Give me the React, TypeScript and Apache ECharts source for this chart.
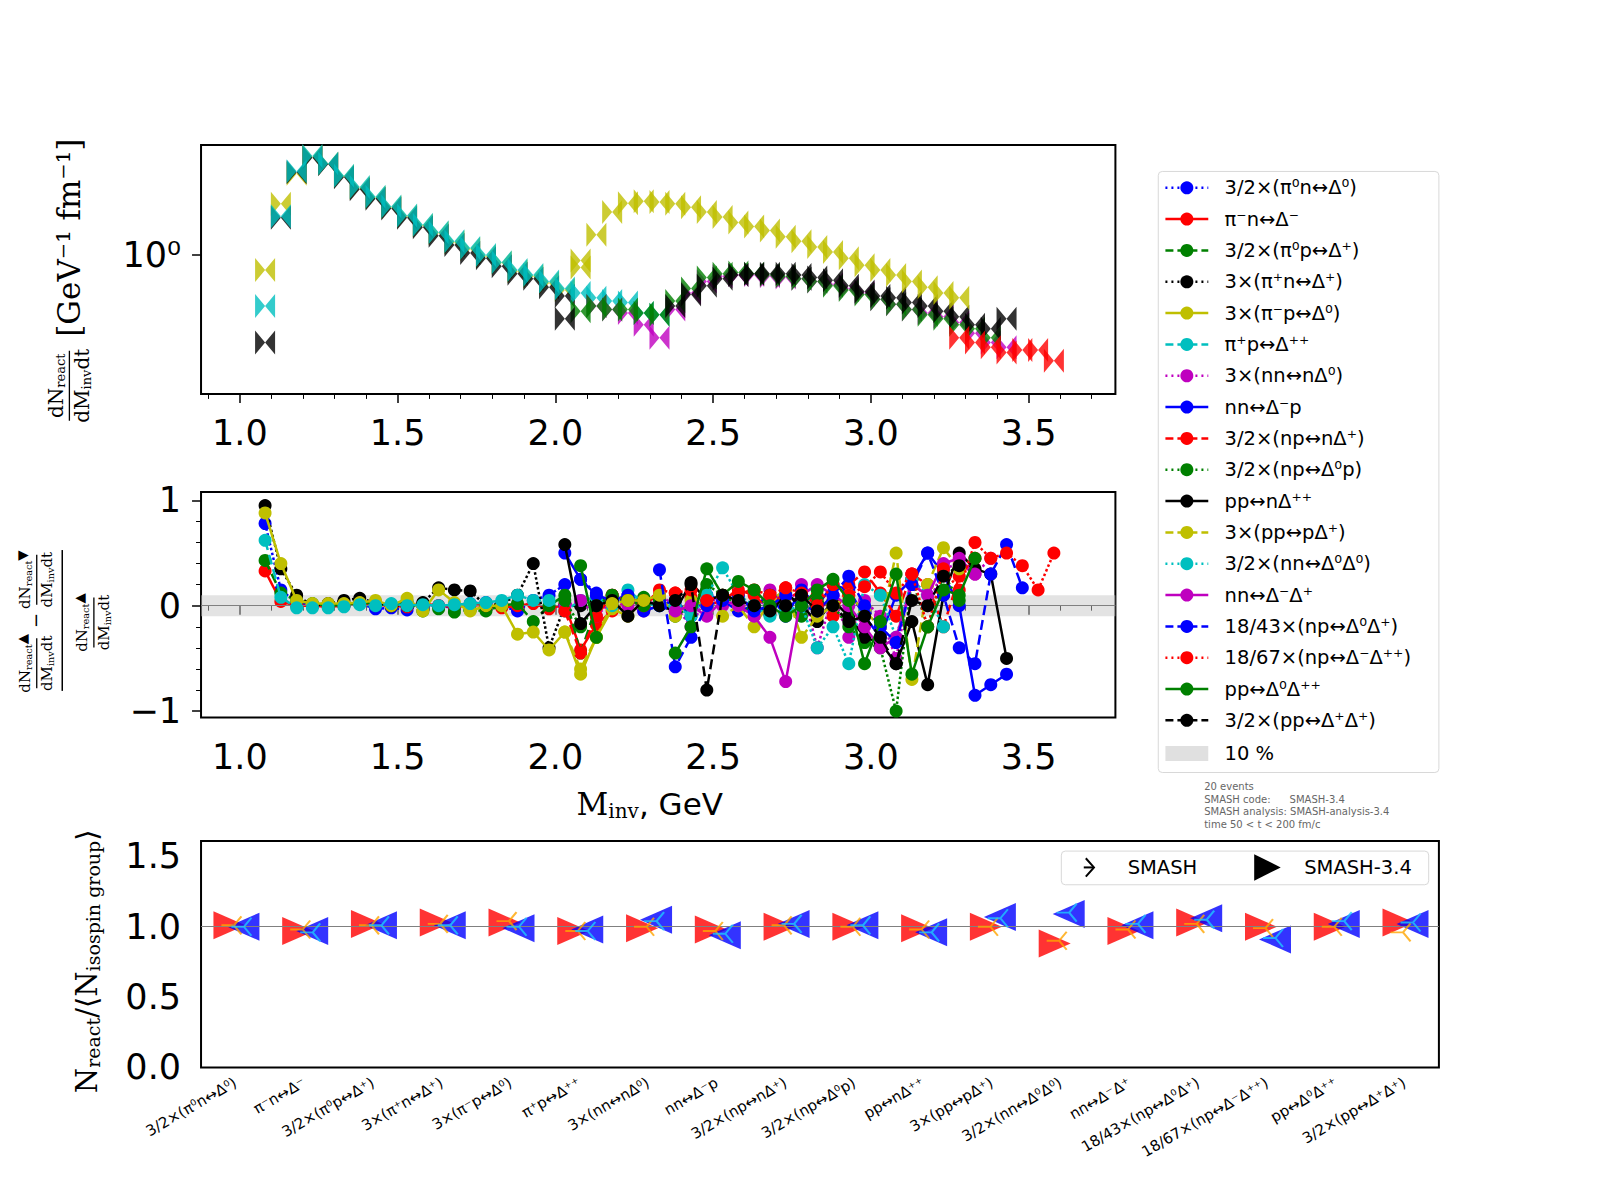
import { useEffect, useRef } from "react";
import * as echarts from "echarts";

// mass bins (GeV), step 0.05
const massBins = [
  1.08, 1.13, 1.18, 1.23, 1.28, 1.33, 1.38, 1.43, 1.48, 1.53, 1.58, 1.63, 1.68, 1.73, 1.78, 1.83, 1.88,
  1.93, 1.98, 2.03, 2.08, 2.13, 2.18, 2.23, 2.28, 2.33, 2.38, 2.43, 2.48, 2.53, 2.58, 2.63, 2.68, 2.73,
  2.78, 2.83, 2.88, 2.93, 2.98, 3.03, 3.08, 3.13, 3.18, 3.23, 3.28, 3.33, 3.38, 3.43, 3.48, 3.53, 3.58,
];

const channelNames = [
  "3/2×(π⁰n↔Δ⁰)", "π⁻n↔Δ⁻", "3/2×(π⁰p↔Δ⁺)", "3×(π⁺n↔Δ⁺)", "3×(π⁻p↔Δ⁰)", "π⁺p↔Δ⁺⁺",
  "3×(nn↔nΔ⁰)", "nn↔Δ⁻p", "3/2×(np↔nΔ⁺)", "3/2×(np↔Δ⁰p)", "pp↔nΔ⁺⁺", "3×(pp↔pΔ⁺)",
  "3/2×(nn↔Δ⁰Δ⁰)", "nn↔Δ⁻Δ⁺", "18/43×(np↔Δ⁰Δ⁺)", "18/67×(np↔Δ⁻Δ⁺⁺)", "pp↔Δ⁰Δ⁺⁺", "3/2×(pp↔Δ⁺Δ⁺)",
];
const channelColors = [
  "#0000ff", "#ff0000", "#008000", "#000000", "#bfbf00", "#00bfbf",
  "#bf00bf", "#0000ff", "#ff0000", "#008000", "#000000", "#bfbf00",
  "#00bfbf", "#bf00bf", "#0000ff", "#ff0000", "#008000", "#000000",
];
const channelDash = [
  "dotted", "solid", "dashed", "dotted", "solid", "dashed",
  "dotted", "solid", "dashed", "dotted", "solid", "dashed",
  "dotted", "solid", "dashed", "dotted", "solid", "dashed",
];

// top panel: dN/dM (GeV^-1 fm^-1)
const topPiPlusP = [0.62, 1.44, 2.2, 2.54, 2.37, 2.11, 1.9, 1.73, 1.58, 1.45, 1.33, 1.24, 1.14, 1.07, 1.0, 0.935, 0.87, 0.83, 0.78, 0.73, 0.7, 0.67, 0.65, 0.64, 0.58, 0.57];
const topPiMinusP = [0.87, 1.62, 2.15, 2.52, 2.36, 2.1, 1.88, 1.72, 1.57, 1.44, 1.32, 1.23, 1.13, 1.06, 0.99, 0.93, 0.86, 0.82, 0.77, 0.72, 0.95];
const topPiPlusN = [0.44, 1.42, 2.18, 2.5, 2.35, 2.08, 1.86, 1.7, 1.55, 1.42, 1.3, 1.2, 1.1, 1.02, 0.97, 0.9, 0.84, 0.8, 0.74, 0.68];
const topPPtoPDelta = [null, null, null, null, null, null, null, null, null, null, null, null, null, null, null, null, null, null, null, null, 0.89, 1.21, 1.5, 1.63, 1.66, 1.65, 1.62, 1.57, 1.5, 1.43, 1.36, 1.31, 1.26, 1.19, 1.14, 1.08, 1.03, 0.97, 0.91, 0.87, 0.83, 0.78, 0.74, 0.7, 0.67];
const topPPtoNDelta = [null, null, null, null, null, null, null, null, null, null, null, null, null, null, null, null, null, null, null, 0.55, null, null, null, null, null, null, 0.62, 0.69, 0.75, 0.8, 0.83, 0.84, 0.84, 0.84, 0.83, 0.81, 0.79, 0.75, 0.71, 0.68, 0.67, 0.64, 0.62, 0.59, 0.56, 0.52, 0.5, 0.55];
const topPPtoDD = [null, null, null, null, null, null, null, null, null, null, null, null, null, null, null, null, null, null, null, null, 0.59, 0.62, 0.6, 0.6, 0.58, 0.57, 0.65, 0.73, 0.81, 0.84, 0.85, 0.84, 0.83, 0.82, 0.8, 0.78, 0.75, 0.72, 0.69, 0.66, 0.63, 0.6, 0.57, 0.55, 0.52, 0.5, 0.46];
const topNNtoDeltaP = [null, null, null, null, null, null, null, null, null, null, null, null, null, null, null, null, null, null, null, null, null, 0.62, 0.6, 0.58, 0.52, 0.46, 0.6, 0.7, 0.78, 0.82, 0.83, 0.83, 0.82, 0.81, 0.8, 0.78, 0.76, 0.73, 0.7, 0.66, 0.63, 0.6, 0.58, 0.56, 0.53, 0.48, 0.44, 0.42];
const topNPtoDD = [null, null, null, null, null, null, null, null, null, null, null, null, null, null, null, null, null, null, null, null, null, null, null, null, null, null, null, null, null, null, null, null, null, null, null, null, null, null, null, null, null, null, null, null, 0.46, 0.44, 0.42, 0.4, 0.41, 0.41, 0.37];

// middle panel: relative difference per channel (same bin order, nulls where no data)
const ratio: (number | null)[][] = [
  [0.78, 0.15, 0.03, 0.0, 0.01, 0.0, 0.02, -0.03, -0.02, -0.04, 0.01, 0.0, -0.02, 0.02, 0.03, 0.0, -0.05, 0.05, 0.1, 0.2, 0.25, 0.12, 0.0, 0.1, 0.05],
  [0.33, 0.04, 0.0, 0.0, -0.01, 0.0, 0.02, 0.01, 0.0, -0.01, 0.02, 0.0, -0.01, 0.01, 0.0, -0.02, 0.0, 0.02, -0.03, 0.01, -0.42, -0.18, -0.05, 0.05, 0.02, 0.1],
  [0.43, 0.12, 0.05, 0.02, 0.0, 0.01, 0.03, 0.02, 0.0, 0.04, -0.05, -0.03, -0.06, -0.04, -0.05, 0.0, 0.02, -0.15, 0.0, 0.1, -0.45, 0.0, 0.05, 0.03, 0.08],
  [0.95, 0.35, 0.1, 0.0, 0.02, 0.05, 0.07, 0.03, 0.0, 0.0, 0.03, 0.17, 0.15, 0.14, 0.0, 0.02, 0.1, 0.4, -0.4, 0.0, 0.0, 0.05, 0.1, 0.05],
  [0.88, 0.4, 0.05, 0.02, 0.02, 0.02, 0.03, 0.05, 0.0, 0.07, -0.05, 0.15, 0.03, -0.05, 0.0, 0.0, -0.27, -0.25, -0.42, -0.25, -0.65, -0.3, -0.03, -0.1, 0.05],
  [0.62, 0.08, -0.02, -0.02, -0.02, -0.01, 0.01, 0.0, 0.02, 0.0, 0.01, 0.0, 0.01, 0.02, 0.03, 0.05, 0.1, 0.05, 0.05, -0.05, 0.05, 0.08, 0.0, 0.15, 0.02, 0.0, 0.0],
  [null, null, null, null, null, null, null, null, null, null, null, null, null, null, null, null, null, null, null, 0.0, 0.05, -0.1, 0.05, 0.0, -0.05, 0.1, 0.0, -0.2, 0.1, 0.0, 0.05, -0.1, 0.15, 0.0, 0.2, -0.4, 0.1, -0.3, 0.05, -0.1, -0.5, 0.3, 0.0, 0.35, 0.4, 0.3, 0.45],
  [null, null, null, null, null, null, null, null, null, null, null, null, null, null, null, null, null, null, null, 0.5, 0.25, 0.1, 0.05, 0.1, -0.05, 0.0, 0.05, -0.1, 0.1, 0.05, -0.05, 0.0, 0.1, -0.1, 0.15, 0.0, 0.2, 0.15, -0.1, -0.3, 0.1, 0.25, 0.5, 0.3, 0.0, -0.85, -0.75, -0.65],
  [null, null, null, null, null, null, null, null, null, null, null, null, null, null, null, null, null, null, null, -0.05, -0.45, -0.1, 0.1, 0.05, 0.0, 0.15, 0.12, 0.08, 0.0, 0.05, 0.15, 0.1, -0.05, 0.17, 0.05, 0.1, -0.1, 0.2, 0.32, 0.12, -0.1, 0.3, 0.2, -0.2, 0.28, 0.45],
  [null, null, null, null, null, null, null, null, null, null, null, null, null, null, null, null, null, null, null, 0.05, -0.2, 0.0, 0.1, 0.05, 0.0, 0.05, -0.1, 0.0, 0.2, 0.1, 0.0, -0.05, 0.1, 0.0, -0.1, 0.05, 0.0, -0.2, -0.35, -0.4, -1.0, 0.25, -0.2, 0.3, 0.05],
  [null, null, null, null, null, null, null, null, null, null, null, null, null, null, null, null, null, null, null, 0.58, -0.17, 0.0, 0.05, -0.1, 0.05, 0.0, -0.05, 0.22, 0.05, 0.1, 0.05, 0.0, -0.08, 0.12, 0.0, -0.15, 0.05, -0.1, -0.3, -0.35, -0.55, -0.15, -0.75, 0.1, 0.5, 0.35, 0.3, -0.5],
  [null, null, null, null, null, null, null, null, null, null, null, null, null, null, null, null, null, null, null, -0.25, -0.6, -0.3, 0.02, 0.05, 0.05, 0.1, -0.1, 0.05, 0.0, -0.1, 0.0, -0.2, 0.05, 0.15, -0.3, -0.1, 0.0, 0.1, -0.05, -0.2, 0.5, -0.7, 0.2, 0.55, 0.35],
  [null, null, null, null, null, null, null, null, null, null, null, null, null, null, null, null, null, null, null, null, null, null, null, null, null, null, 0.0, -0.1, 0.1, 0.36, 0.1, 0.0, -0.1, -0.05, 0.0, -0.4, -0.2, -0.55, 0.2, 0.1, -0.3, 0.25, 0.1, -0.2],
  [null, null, null, null, null, null, null, null, null, null, null, null, null, null, null, null, null, null, null, null, null, null, null, null, null, null, -0.05, 0.0, -0.1, 0.05, 0.0, -0.1, -0.3, -0.72, 0.1, 0.2, 0.1, 0.0, -0.2, -0.4, -0.3, 0.2, 0.1, 0.4, 0.45, 0.3],
  [null, null, null, null, null, null, null, null, null, null, null, null, null, null, null, null, null, null, null, null, null, null, null, null, null, 0.34, -0.58, -0.3, 0.0, 0.05, 0.1, -0.05, 0.0, 0.1, 0.0, -0.05, 0.1, 0.28, 0.0, -0.2, -0.35, 0.2, 0.5, 0.1, -0.4, -0.55, 0.3, 0.58, 0.17],
  [null, null, null, null, null, null, null, null, null, null, null, null, null, null, null, null, null, null, null, null, null, null, null, null, null, null, 0.12, 0.15, 0.05, 0.1, 0.12, 0.15, 0.1, 0.17, 0.12, 0.0, 0.2, 0.1, 0.18, 0.32, 0.12, 0.3, -0.2, 0.35, 0.15, 0.6, 0.45, 0.5, 0.38, 0.15, 0.5],
  [null, null, null, null, null, null, null, null, null, null, null, null, null, null, null, null, null, null, null, null, 0.38, -0.3, null, null, null, null, -0.45, -0.2, 0.35, 0.1, 0.23, 0.15, 0.0, -0.1, 0.0, 0.15, 0.25, 0.05, -0.55, -0.15, 0.3, -0.65, -0.2, 0.15, 0.1, 0.45],
  [null, null, null, null, null, null, null, null, null, null, null, null, null, null, null, null, null, null, null, null, null, null, null, null, null, null, 0.05, 0.2, -0.8, 0.1, 0.05, 0.0, -0.05, 0.0, 0.1, -0.05, 0.0, -0.15, -0.1, -0.3, -0.55, 0.05, 0.0, 0.28, 0.38],
];

// bottom panel
const bottomCategories = channelNames;
const smash34First = [1.01, 0.97, 1.02, 1.03, 1.03, 0.97, 0.99, 0.98, 1.0, 1.0, 0.99, 1.0, 0.88, 0.97, 1.03, 1.0, 1.0, 1.03];
const smash34Second = [1.0, 0.97, 1.01, 1.01, 0.99, 0.98, 1.05, 0.94, 1.02, 1.01, 0.96, 1.07, 1.09, 1.01, 1.06, 0.91, 1.02, 1.02];
const smashFirst = [1.01, 0.98, 1.01, 1.02, 1.04, 0.97, 1.0, 0.97, 1.01, 1.0, 0.98, 1.0, 0.9, 0.98, 1.02, 0.99, 1.0, 0.96];
const smashSecond = [1.0, 0.96, 1.01, 1.01, 1.0, 0.97, 1.04, 0.95, 1.02, 1.01, 0.96, 1.06, 1.1, 1.02, 1.05, 0.92, 1.04, 1.03];

const topXMajor = [1.0, 1.5, 2.0, 2.5, 3.0, 3.5];
const topXMinor = [0.9, 1.1, 1.2, 1.3, 1.4, 1.6, 1.7, 1.8, 1.9, 2.1, 2.2, 2.3, 2.4, 2.6, 2.7, 2.8, 2.9, 3.1, 3.2, 3.3, 3.4, 3.6, 3.7];
const midYMajor = [-1, 0, 1];
const midYMinor = [-0.8, -0.6, -0.4, -0.2, 0.2, 0.4, 0.6, 0.8];
const bottomYTicks = [0, 0.5, 1.0, 1.5];

const S = 1.0205; // reference was measured on a slightly shrunk view
const s = (v: number) => v * S;
const BOWTIE = "path://M0,0L10,5L0,10ZM20,0L10,5L20,10Z";
const TRI = "path://M0,5L10,5M10,5L16,0M10,5L16,10";
const sans = "DejaVu Sans";
const serif = "DejaVu Serif";

const xAxesFor = (gridIndex: number) => [
  {
    type: "value", gridIndex, min: 0.877, max: 3.775, position: "bottom",
    axisLine: { show: false }, splitLine: { show: false },
    axisTick: { show: true, inside: false, length: 9, lineStyle: { color: "#000", width: 1.5 }, customValues: topXMajor },
    axisLabel: { customValues: topXMajor, margin: 22, fontSize: 35, fontFamily: sans, color: "#000", formatter: (v: number) => v.toFixed(1) },
  },
  {
    type: "value", gridIndex, min: 0.877, max: 3.775, position: "bottom",
    axisLine: { show: false }, splitLine: { show: false },
    axisTick: { show: true, length: 5, lineStyle: { color: "#000", width: 1 }, customValues: topXMinor },
    axisLabel: { show: false },
  },
];

// a rotated (reading upward) fraction centred on screen point (x, y)
const rich = (fs: number) => ({
  m: { fontSize: fs, fontFamily: serif, fill: "#000" },
  s: { fontSize: fs * 0.65, fontFamily: serif, fill: "#000", padding: [fs * 0.45, 0, 0, 0] },
  t: { fontSize: fs * 0.9, fontFamily: sans, fill: "#000", padding: [0, 0, fs * 0.4, 0] },
});
const frac = (x: number, y: number, w: number, num: string, den: string, fs: number) => ({
  type: "group", x, y, rotation: Math.PI / 2,
  children: [
    { type: "text", x: 0, y: -2, style: { text: num, align: "center", verticalAlign: "bottom", rich: rich(fs) } },
    { type: "line", shape: { x1: -w / 2, y1: 0, x2: w / 2, y2: 0 }, style: { stroke: "#000", lineWidth: 1.3 } },
    { type: "text", x: 0, y: 2, style: { text: den, align: "center", verticalAlign: "top", rich: rich(fs) } },
  ],
});
const DN = "{m|dN}{s|react}";
const DM = "{m|dM}{s|inv}{m|dt}";

const App = () => {
  const ref = useRef<HTMLDivElement>(null);

  useEffect(() => {
    document.body.style.margin = "0";
    if (!ref.current) return;
    const chart = echarts.init(ref.current, null, { renderer: "svg" });

    const pair = (vals: (number | null)[]) => vals.map((v, i) => [massBins[i], v]);

    const topSeries = [
      { data: topPiMinusP, color: "#bfbf00" },
      { data: topPiPlusN, color: "#000000" },
      { data: topPiPlusP, color: "#00bfbf" },
      { data: topNNtoDeltaP, color: "#bf00bf" },
      { data: topPPtoDD, color: "#008000" },
      { data: topPPtoNDelta, color: "#000000" },
      { data: topPPtoPDelta, color: "#bfbf00" },
      { data: topNPtoDD, color: "#ff0000" },
    ].map((d) => ({
      type: "scatter", xAxisIndex: 0, yAxisIndex: 0, data: pair(d.data).filter((p) => p[1] != null),
      symbol: BOWTIE, symbolSize: [20, 24], itemStyle: { color: d.color }, z: 3,
    }));

    const midSeries = ratio.map((vals, k) => ({
      type: "line", xAxisIndex: 2, yAxisIndex: 1, data: pair(vals), connectNulls: false,
      symbol: "circle", symbolSize: 13, showSymbol: true,
      lineStyle: { color: channelColors[k], width: 2.5, type: channelDash[k] },
      itemStyle: { color: channelColors[k] }, z: 3 + k,
    }));

    const legendEls: any[] = [];
    channelNames.forEach((name, k) => {
      const y = s(184 + k * 30.7);
      legendEls.push({ type: "line", shape: { x1: s(1142), y1: y, x2: s(1184), y2: y }, style: { stroke: channelColors[k], lineWidth: 2.5, lineDash: channelDash[k] === "dotted" ? [2, 4] : channelDash[k] === "dashed" ? [8, 4] : null } });
      legendEls.push({ type: "circle", shape: { cx: s(1163), cy: y, r: 6.5 }, style: { fill: channelColors[k] } });
      legendEls.push({ type: "text", x: s(1200), y, style: { text: name, fontSize: 19.5, fontFamily: sans, fill: "#000", verticalAlign: "middle" } });
    });
    legendEls.push({ type: "rect", shape: { x: s(1142), y: s(731), width: s(42), height: 15 }, style: { fill: "#e0e0e0" } });
    legendEls.push({ type: "text", x: s(1200), y: s(738), style: { text: "10 %", fontSize: 19.5, fontFamily: sans, fill: "#000", verticalAlign: "middle" } });

    chart.setOption({
      animation: false,
      grid: [
        { left: s(197), top: s(142), width: s(896), height: s(244), show: true, borderColor: "#000", borderWidth: 2 },
        { left: s(197), top: s(482), width: s(896), height: s(221), show: true, borderColor: "#000", borderWidth: 2 },
        { left: s(197), top: s(824), width: s(1213), height: s(222), show: true, borderColor: "#000", borderWidth: 2 },
      ],
      xAxis: [
        ...xAxesFor(0),
        ...xAxesFor(1),
        {
          type: "category", gridIndex: 2, data: bottomCategories,
          axisLine: { show: false }, splitLine: { show: false },
          axisTick: { alignWithLabel: true, length: 10, lineStyle: { color: "#000", width: 1.5 } },
          axisLabel: { rotate: 30, fontSize: 15, fontFamily: sans, color: "#000", margin: 14, interval: 0 },
        },
      ],
      yAxis: [
        {
          type: "log", gridIndex: 0, min: 0.271, max: 2.82, logBase: 10,
          axisLine: { show: false }, splitLine: { show: false },
          axisTick: { length: 9, customValues: [1], lineStyle: { color: "#000", width: 1.5 } },
          axisLabel: { customValues: [1], fontSize: 35, fontFamily: sans, color: "#000", margin: 20, formatter: () => "10⁰" },
        },
        {
          type: "value", gridIndex: 1, min: -1.06, max: 1.08, position: "left",
          axisLine: { show: false }, splitLine: { show: false },
          axisTick: { length: 9, customValues: midYMajor, lineStyle: { color: "#000", width: 1.5 } },
          axisLabel: { customValues: midYMajor, fontSize: 35, fontFamily: sans, color: "#000", margin: 20, formatter: (v: number) => (v < 0 ? "−" + Math.abs(v) : String(v)) },
        },
        {
          type: "value", gridIndex: 1, min: -1.06, max: 1.08, position: "left",
          axisLine: { show: false }, splitLine: { show: false },
          axisTick: { length: 5, customValues: midYMinor, lineStyle: { color: "#000", width: 1 } },
          axisLabel: { show: false },
        },
        {
          type: "value", gridIndex: 2, min: 0, max: 1.61,
          axisLine: { show: false }, splitLine: { show: false },
          axisTick: { length: 9, customValues: bottomYTicks, lineStyle: { color: "#000", width: 1.5 } },
          axisLabel: { customValues: bottomYTicks, fontSize: 35, fontFamily: sans, color: "#000", margin: 20, formatter: (v: number) => v.toFixed(1) },
        },
      ],
      series: [
        ...topSeries,
        {
          type: "line", xAxisIndex: 2, yAxisIndex: 1, data: [], silent: true,
          markArea: { silent: true, itemStyle: { color: "rgba(200,200,200,0.5)" }, data: [[{ yAxis: -0.1 }, { yAxis: 0.1 }]] },
          markLine: { silent: true, symbol: "none", label: { show: false }, lineStyle: { color: "#808080", width: 1, type: "solid" }, data: [{ yAxis: 0 }] },
        },
        ...midSeries,
        {
          type: "scatter", xAxisIndex: 4, yAxisIndex: 3, data: smash34First, symbol: "triangle", symbolRotate: -90,
          symbolSize: [28, 32], symbolOffset: [-6, 0], itemStyle: { color: "#ff0000" }, z: 3,
          markLine: { silent: true, symbol: "none", label: { show: false }, lineStyle: { color: "#808080", width: 1, type: "solid" }, data: [{ yAxis: 1 }] },
        },
        {
          type: "scatter", xAxisIndex: 4, yAxisIndex: 3, data: smash34Second, symbol: "triangle", symbolRotate: 90,
          symbolSize: [28, 32], symbolOffset: [8, 0], itemStyle: { color: "#0000ff" }, z: 4,
        },
        {
          type: "scatter", xAxisIndex: 4, yAxisIndex: 3, data: smashFirst, symbol: TRI, symbolSize: [20, 18], symbolOffset: [-4, 0],
          itemStyle: { color: "none", borderColor: "#ffa500", borderWidth: 2 }, z: 5,
        },
        {
          type: "scatter", xAxisIndex: 4, yAxisIndex: 3, data: smashSecond, symbol: TRI, symbolSize: [20, 18], symbolOffset: [6, 0],
          itemStyle: { color: "none", borderColor: "#1ec8ff", borderWidth: 2 }, z: 6,
        },
      ],
      graphic: [
        { type: "rect", shape: { x: s(1135), y: s(168), width: s(275), height: s(589), r: 4 }, style: { fill: "#fff", stroke: "#d8d8d8", lineWidth: 1 }, z: 0 },
        ...legendEls,
        {
          type: "text", x: s(1180), y: s(765),
          style: { text: "20 events\nSMASH code:      SMASH-3.4\nSMASH analysis: SMASH-analysis-3.4\ntime 50 < t < 200 fm/c", fontSize: 10, lineHeight: 12.5, fontFamily: sans, fill: "#666" },
        },
        // bottom legend
        { type: "rect", shape: { x: s(1040), y: s(834), width: s(360), height: s(33), r: 4 }, style: { fill: "#fff", stroke: "#d8d8d8", lineWidth: 1 } },
        { type: "polyline", shape: { points: [[s(1062), s(850)], [s(1072), s(850)]] }, style: { stroke: "#000", lineWidth: 2 } },
        { type: "polyline", shape: { points: [[s(1064), s(841)], [s(1072), s(850)], [s(1064), s(859)]] }, style: { stroke: "#000", lineWidth: 2, fill: "none" } },
        { type: "text", x: s(1105), y: s(850), style: { text: "SMASH", fontSize: 19.5, fontFamily: sans, fill: "#000", verticalAlign: "middle" } },
        { type: "polygon", shape: { points: [[s(1229), s(837)], [s(1255), s(850)], [s(1229), s(863)]] }, style: { fill: "#000" } },
        { type: "text", x: s(1278), y: s(850), style: { text: "SMASH-3.4", fontSize: 19.5, fontFamily: sans, fill: "#000", verticalAlign: "middle" } },
        // x label
        {
          type: "text", x: s(565), y: s(788),
          style: {
            text: "{m|M}{s|inv}{g|, GeV}", verticalAlign: "middle",
            rich: { m: { fontSize: 31, fontFamily: serif, fill: "#000" }, s: { fontSize: 20, fontFamily: serif, fill: "#000", padding: [14, 0, 0, 0] }, g: { fontSize: 31, fontFamily: sans, fill: "#000" } },
          },
        },
        // top y label
        frac(s(68), s(378), 70, DN, DM, 20),
        { type: "text", x: s(68), y: s(330), rotation: Math.PI / 2, style: { text: "[GeV⁻¹ fm⁻¹]", fontSize: 31, fontFamily: serif, fill: "#000", verticalAlign: "middle", align: "left" } },
        // middle y label: (dN▲/dMdt − dN▼/dMdt) / (dN▲/dMdt)
        { type: "line", shape: { x1: s(61), y1: s(539), x2: s(61), y2: s(677) }, style: { stroke: "#000", lineWidth: 1.5 } },
        frac(s(36), s(650), 50, DN + "{t|▲}", DM, 15),
        { type: "text", x: s(35), y: s(608), rotation: Math.PI / 2, style: { text: "−", fontSize: 18, fontFamily: sans, fill: "#000", align: "center", verticalAlign: "middle" } },
        frac(s(36), s(568), 50, DN + "{t|▼}", DM, 15),
        frac(s(92), s(610), 50, DN + "{t|▲}", DM, 15),
        // bottom y label
        {
          type: "text", x: s(85), y: s(942), rotation: Math.PI / 2,
          style: {
            text: "{m|N}{s|react}{m|/⟨N}{s|isospin group}{m|⟩}", align: "center", verticalAlign: "middle",
            rich: { m: { fontSize: 29, fontFamily: serif, fill: "#000" }, s: { fontSize: 19, fontFamily: serif, fill: "#000", padding: [12, 0, 0, 0] } },
          },
        },
      ],
    });

    return () => {
      chart.dispose();
    };
  }, []);

  return <div ref={ref} style={{ width: "1600px", height: "1200px" }}></div>;
};

export default App;
